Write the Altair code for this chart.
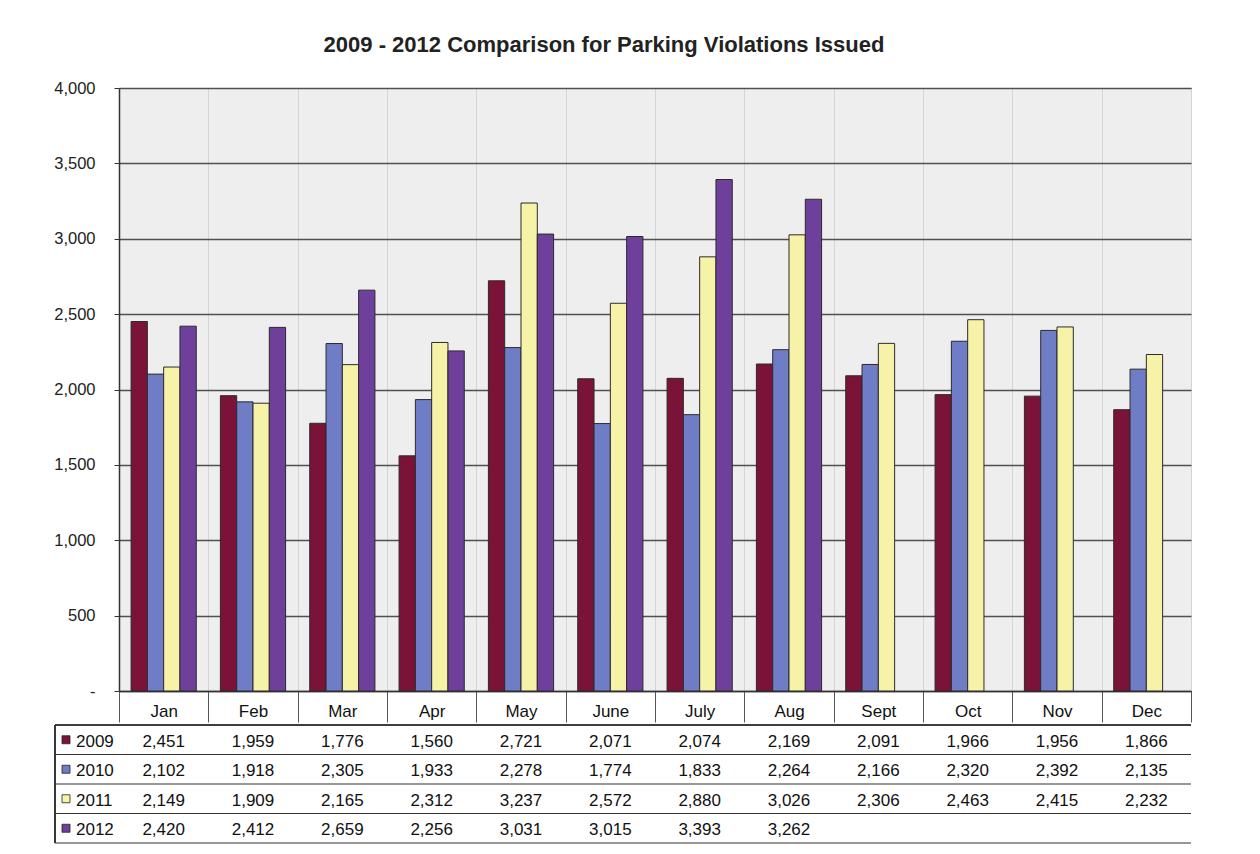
import altair as alt
import pandas as pd

months = ["Jan", "Feb", "Mar", "Apr", "May", "June", "July", "Aug", "Sept", "Oct", "Nov", "Dec"]
years = ["2009", "2010", "2011", "2012"]
v2009 = [2451, 1959, 1776, 1560, 2721, 2071, 2074, 2169, 2091, 1966, 1956, 1866]
v2010 = [2102, 1918, 2305, 1933, 2278, 1774, 1833, 2264, 2166, 2320, 2392, 2135]
v2011 = [2149, 1909, 2165, 2312, 3237, 2572, 2880, 3026, 2306, 2463, 2415, 2232]
v2012 = [2420, 2412, 2659, 2256, 3031, 3015, 3393, 3262, None, None, None, None]
colors = ["#7b1238", "#6f7cc6", "#f6f2a8", "#6f3f9c"]

rows = []
for yr, vals in zip(years, [v2009, v2010, v2011, v2012]):
    for m, v in zip(months, vals):
        rows.append({"month": m, "year": yr, "value": v,
                     "label": "" if v is None else f"{v:,}"})
df = pd.DataFrame(rows)
bars_df = df.dropna(subset=["value"])

FONT = "Liberation Sans"
W = 1072
H = 603
TH = 118

xscale = alt.Scale(domain=months, paddingInner=0, paddingOuter=0)
color_scale = alt.Scale(domain=years, range=colors)

bars = alt.Chart(bars_df).mark_bar(stroke="#2b2b2b", strokeWidth=1).encode(
    x=alt.X("month:N", sort=months, scale=xscale, title=None,
            axis=alt.Axis(orient="bottom", tickBand="extent", tickSize=31,
                          tickColor="#555555", tickWidth=1, domainColor="#333333",
                          domainWidth=1.5, labelPadding=-19, labelAngle=0,
                          labelFont=FONT, labelFontSize=17, labelColor="#111111",
                          grid=True, gridColor="#d4d4d4", gridWidth=1)),
    xOffset=alt.XOffset("year:N", sort=years,
                        scale=alt.Scale(domain=years, paddingInner=0, paddingOuter=0.74)),
    y=alt.Y("value:Q", scale=alt.Scale(domain=[0, 4000], nice=False), title=None,
            axis=alt.Axis(values=[0, 500, 1000, 1500, 2000, 2500, 3000, 3500, 4000],
                          format=",d", labelExpr="datum.value == 0 ? '-' : datum.label",
                          tickSize=5, tickColor="#333333", domainColor="#333333",
                          domainWidth=1.5, labelPadding=19, labelFont=FONT,
                          labelFontSize=16.5, labelColor="#222222",
                          gridColor="#505050", gridWidth=1.3)),
    color=alt.Color("year:N", scale=color_scale, legend=None),
).properties(
    width=W, height=H,
    view=alt.ViewBackground(fill="#eeeeee", stroke="#333333", strokeWidth=1),
    title=alt.TitleParams("2009 - 2012 Comparison for Parking Violations Issued",
                          font=FONT, fontSize=22, fontWeight="bold", color="#222222",
                          anchor="middle", frame="group", dx=-51, offset=23),
)

base = alt.Chart(df)
yscale = alt.Scale(domain=years, paddingInner=0, paddingOuter=0)
cells = base.mark_text(font=FONT, fontSize=17, color="#111111", baseline="middle", dy=2).encode(
    x=alt.X("month:N", sort=months, scale=xscale, axis=None),
    y=alt.Y("year:N", sort=years, scale=yscale, axis=None),
    text="label:N",
)
year_df = pd.DataFrame({"year": years})
ybase = alt.Chart(year_df)
row_lines = ybase.mark_rule(color="#333333", strokeWidth=1.2).encode(
    y=alt.Y("year:N", sort=years, scale=yscale, bandPosition=1, axis=None),
    x=alt.value(-64), x2=alt.value(W),
)
top_line = ybase.mark_rule(color="#333333", strokeWidth=1.2).encode(
    y=alt.value(0), x=alt.value(-64), x2=alt.value(W),
)
left_line = ybase.mark_rule(color="#333333", strokeWidth=1.2).encode(
    x=alt.value(-64), y=alt.value(0), y2=alt.value(TH),
)
keys = ybase.mark_square(size=64, opacity=1, stroke="#222222", strokeWidth=0.8).encode(
    x=alt.value(-53),
    y=alt.Y("year:N", sort=years, scale=yscale, axis=None),
    color=alt.Color("year:N", scale=color_scale, legend=None),
)
key_text = ybase.mark_text(font=FONT, fontSize=17, color="#111111", align="left",
                           baseline="middle", dy=2).encode(
    x=alt.value(-43),
    y=alt.Y("year:N", sort=years, scale=yscale, axis=None),
    text="year:N",
)
table = alt.layer(row_lines, top_line, left_line, keys, key_text, cells).properties(
    width=W, height=TH,
)

chart = alt.vconcat(bars, table, spacing=0).resolve_scale(
    x="independent", y="independent", color="shared"
).properties(
    padding={"left": 45, "top": 25, "right": 10, "bottom": 5},
    background="white",
).configure_view(
    stroke="transparent"
)

chart.save("out.html", embed_options={"renderer": "svg", "actions": False})
